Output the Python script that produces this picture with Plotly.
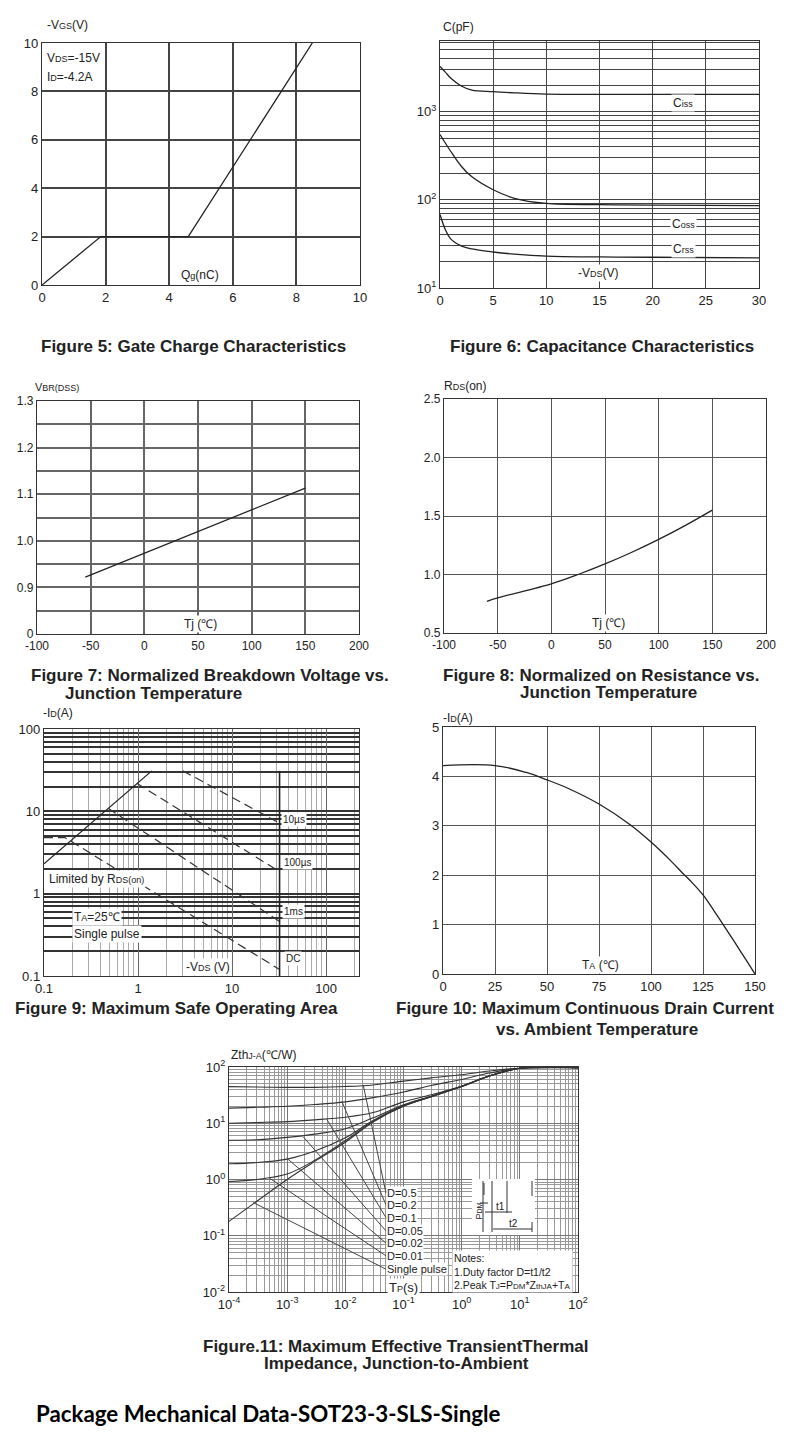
import math
import plotly.graph_objects as go

W, H = 790, 1451
OFF = 8  # the page body margin shifts the figure by this many pixels
FONT = "Liberation Sans, Arial, sans-serif"
INK = "#222"

# ---------------- data ----------------
# Figure 5: gate charge
QG_NC = [0, 1.85, 4.6, 8.5]
VGS_V = [0, 2, 2, 10]

# Figure 6: capacitance
VDS_CAP = [0, 0.5, 1, 2, 3, 5, 7, 10, 15, 20, 30]
CISS = [3240, 2800, 2400, 1950, 1750, 1680, 1630, 1580, 1570, 1570, 1570]
COSS = [550, 440, 355, 240, 182, 130, 104, 91, 88, 87, 86]
CRSS = [68, 46, 36, 30, 27.7, 25.6, 24.2, 23, 22.5, 22.3, 22]

# Figure 7: normalized breakdown voltage
TJ_BV = [-55, 150]
VBR_NORM = [0.922, 1.113]

# Figure 8: normalized on resistance
TJ_RDS = [-60, -50, 0, 25, 50, 75, 100, 125, 150]
RDS_NORM = [0.77, 0.80, 0.92, 1.00, 1.09, 1.19, 1.30, 1.42, 1.55]

# Figure 9: safe operating area
V_RDS_LIM = [0.1, 1.4]
I_RDS_LIM = [2.3, 31]
V_10US = [3.0, 32]
I_10US = [31, 7.2]
V_100US = [0.97, 32]
I_100US = [21.9, 1.85]
V_1MS = [0.48, 32]
I_1MS = [10.9, 0.46]
V_DC = [0.1, 0.167, 32]
I_DC = [4.8, 4.8, 0.12]
V_VMAX = [32, 32]
I_VMAX = [0.1, 31]

# Figure 10: drain current derating
TA_C = [0, 25, 40, 50, 60, 75, 90, 100, 110, 115, 120, 125, 130, 135, 140, 145, 150]
ID_A = [4.22, 4.22, 4.08, 3.93, 3.76, 3.44, 3.02, 2.67, 2.27, 2.05, 1.84, 1.6, 1.3, 0.98,
        0.66, 0.33, 0]

# Figure 11: transient thermal impedance
TP_S = [1e-4, 3e-4, 1e-3, 3e-3, 1e-2, 3e-2, 1e-1, 3e-1, 1, 3, 10, 100]
Z_D05 = [44.7, 44, 43.5, 43.5, 45, 48, 56, 64, 73, 85, 95, 97]
Z_D02 = [18.6, 19.2, 20, 21.5, 24, 28.5, 36, 47, 60, 78, 95, 97]
Z_D01 = [10, 10.3, 10.7, 11.5, 12.8, 15.5, 24, 32, 46, 69.5, 95, 97]
Z_D005 = [5.0, 5.1, 5.6, 6.4, 8.0, 12.5, 21.3, 30.3, 45.3, 69, 95, 97]
Z_D002 = [1.9, 2.0, 2.3, 3.2, 5.5, 11.2, 20.6, 29.9, 45, 69, 95, 97]
Z_D001 = [0.92, 1.0, 1.25, 2.2, 4.9, 10.8, 20.3, 29.7, 45, 69, 95, 97]
Z_SINGLE = [0.18, 0.41, 1.0, 2.1, 4.6, 10.5, 20, 29.5, 45, 69, 95, 97]
D_LABELS = ["D=0.5", "D=0.2", "D=0.1", "D=0.05", "D=0.02", "D=0.01", "Single pulse"]
LEAD_T0 = [0.0204, 0.0087, 0.0048, 0.0019, 0.00098, 0.0005, 0.00026]
LEAD_Z0 = [47, 24.5, 11.8, 5.7, 2.4, 1.05, 0.39]
LABEL_T = 0.05
LABEL_Z = [0.57, 0.354, 0.21, 0.122, 0.074, 0.044, 0.0255]


def sm(s, size=9):
    return f"<span style='font-size:{size}px'>{s}</span>"


def px(x):
    return (x - OFF) / W


def py(y):
    return 1 - (y - OFF) / H


def dom(x0, x1, y0, y1):
    # pixel box -> paper domains
    return [px(x0), px(x1)], [py(y1), py(y0)]


def axis(domain, anchor, grid="#555", gw=1.3, size=13, **kw):
    d = dict(domain=domain, anchor=anchor, showline=True, mirror=True,
             linecolor="#333", linewidth=1.4, ticks="", showgrid=True,
             gridcolor=grid, gridwidth=gw, zeroline=False, fixedrange=True,
             automargin=False,
             tickfont=dict(family=FONT, size=size, color=INK))
    d.update(kw)
    return d


def sup(vals):
    return [f"10<sup>{v}</sup>" for v in vals]


fig = go.Figure()
line = dict(color=INK, width=1.3)


def add(x, y, n, **kw):
    s = "" if n == 1 else str(n)
    fig.add_trace(go.Scatter(x=x, y=y, mode="lines", line=kw.pop("line", line),
                             xaxis="x" + s, yaxis="y" + s, showlegend=False,
                             hoverinfo="skip", **kw))


# Figure 5
add(QG_NC, VGS_V, 1)
# Figure 6
for c in (CISS, COSS, CRSS):
    add(VDS_CAP, c, 2, line_shape="spline")
# Figure 7
add(TJ_BV, VBR_NORM, 3)
# Figure 8
add(TJ_RDS, RDS_NORM, 4, line_shape="spline")
# Figure 9
add(V_RDS_LIM, I_RDS_LIM, 5)
dash = dict(color="#333", width=1.2, dash="9px,5px")
for vx, iy in ((V_10US, I_10US), (V_100US, I_100US), (V_1MS, I_1MS), (V_DC, I_DC)):
    add(vx, iy, 5, line=dash)
add(V_VMAX, I_VMAX, 5, line=dict(color="#222", width=1.6))
# Figure 10
add(TA_C, ID_A, 6, line_shape="spline")
# Figure 11
for z in (Z_D05, Z_D02, Z_D01, Z_D005, Z_D002, Z_D001, Z_SINGLE):
    add(TP_S, z, 7, line_shape="spline", line=dict(color="#333", width=1.1))
for t0, z0, z1 in zip(LEAD_T0, LEAD_Z0, LABEL_Z):
    add([t0, LABEL_T], [z0, z1], 7, line=dict(color="#444", width=1))

x1d, y1d = dom(42, 360, 43, 285)
x2d, y2d = dom(440, 759, 41, 288)
x3d, y3d = dom(37, 359, 401, 634)
x4d, y4d = dom(444, 766, 399, 633)
x5d, y5d = dom(44, 359, 729, 976)
x6d, y6d = dom(443, 755, 727, 974)
x7d, y7d = dom(229, 578, 1067, 1292)

fig.update_layout(
    width=W, height=H, autosize=False,
    margin=dict(l=0, r=0, t=0, b=0, pad=0),
    paper_bgcolor="white", plot_bgcolor="white",
    font=dict(family=FONT, color=INK),
    xaxis=axis(x1d, "y", grid="#444", gw=1.5, range=[0, 10], tickvals=[0, 2, 4, 6, 8, 10]),
    yaxis=axis(y1d, "x", grid="#444", gw=1.5, range=[0, 10], tickvals=[0, 2, 4, 6, 8, 10]),
    xaxis2=axis(x2d, "y2", grid="#444", gw=1.4, range=[0, 30], tickvals=[0, 5, 10, 15, 20, 25, 30]),
    yaxis2=axis(y2d, "x2", grid="#444", gw=1.4, type="log", range=[1, 3.8],
                tickvals=[10, 100, 1000], ticktext=sup([1, 2, 3]),
                minor=dict(dtick="D1", showgrid=True, gridcolor="#444", gridwidth=1.2)),
    xaxis3=axis(x3d, "y3", grid="#666", gw=1.5, size=12, range=[-100, 200],
                tickvals=[-100, -50, 0, 50, 100, 150, 200],
                ticktext=["-100", "-50", "0", "50", "100", "150", "200"]),
    yaxis3=axis(y3d, "x3", grid="#666", gw=1.5, size=12, range=[0.8, 1.3],
                tickvals=[0.8, 0.9, 1.0, 1.1, 1.2, 1.3],
                ticktext=["0", "0.9", "1.0", "1.1", "1.2", "1.3"],
                minor=dict(dtick=0.05, showgrid=True, gridcolor="#666", gridwidth=1.5)),
    xaxis4=axis(x4d, "y4", grid="#555", gw=1.4, size=12, range=[-100, 200],
                tickvals=[-100, -50, 0, 50, 100, 150, 200],
                ticktext=["-100", "-50", "0", "50", "100", "150", "200"]),
    yaxis4=axis(y4d, "x4", grid="#555", gw=1.4, size=12, range=[0.5, 2.5],
                tickvals=[0.5, 1.0, 1.5, 2.0, 2.5],
                ticktext=["0.5", "1.0", "1.5", "2.0", "2.5"]),
    xaxis5=axis(x5d, "y5", grid="#666", gw=1.2, type="log", range=[-1, 2.35],
                tickvals=[0.1, 1, 10, 100], ticktext=["0.1", "1", "10", "100"],
                minor=dict(dtick="D1", showgrid=True, gridcolor="#aaa", gridwidth=1)),
    yaxis5=axis(y5d, "x5", grid="#333", gw=1.6, type="log", range=[-1, 2],
                tickvals=[0.1, 1, 10, 100], ticktext=["0.1", "1", "10", "100"],
                minor=dict(dtick="D1", showgrid=True, gridcolor="#333", gridwidth=1.6)),
    xaxis6=axis(x6d, "y6", grid="#555", gw=1.4, range=[0, 150],
                tickvals=[0, 25, 50, 75, 100, 125, 150]),
    yaxis6=axis(y6d, "x6", grid="#555", gw=1.4, range=[0, 5], tickvals=[0, 1, 2, 3, 4, 5]),
    xaxis7=axis(x7d, "y7", grid="#777", gw=1, type="log", range=[-4, 2],
                tickvals=[1e-4, 1e-3, 1e-2, 1e-1, 1, 10, 100],
                ticktext=sup([-4, -3, -2, -1, 0, 1, 2]),
                minor=dict(dtick="D1", showgrid=True, gridcolor="#999", gridwidth=0.8)),
    yaxis7=axis(y7d, "x7", grid="#777", gw=1, type="log", range=[-2, 2],
                tickvals=[0.01, 0.1, 1, 10, 100], ticktext=sup([-2, -1, 0, 1, 2]),
                minor=dict(dtick="D1", showgrid=True, gridcolor="#999", gridwidth=0.8)),
)


def note(text, x, y, size=12, xanchor="center", bg=None, bold=False, family=FONT, **kw):
    if bold:
        text = f"<b>{text}</b>"
    fig.add_annotation(text=text, x=px(x), y=py(y), xref="paper", yref="paper",
                       xanchor=xanchor, yanchor="middle", showarrow=False,
                       font=dict(family=family, size=size, color=kw.pop("color", INK)),
                       bgcolor=bg, borderpad=kw.pop("borderpad", 1), **kw)


WB = "white"
# axis names and in-plot labels
note("-V" + sm("GS") + "(V)", 67, 25)
note("V" + sm("DS") + "=-15V", 45, 58, xanchor="left")
note("I" + sm("D") + "=-4.2A", 45, 77, xanchor="left")
note("Q" + sm("g") + "(nC)", 200, 275)

note("C(pF)", 458, 27)
note("C" + sm("iss"), 683, 103, bg=WB)
note("C" + sm("oss"), 683, 224, bg=WB)
note("C" + sm("rss"), 683, 249, bg=WB)
note("-V" + sm("DS") + "(V)", 598, 273, bg=WB)

note("V" + sm("BR(DSS)"), 57, 387, size=11)
note("Tj (℃)", 200, 624, bg=WB)
note("R" + sm("DS") + "(on)", 465, 386)
note("Tj (℃)", 608, 623, bg=WB)

note("-I" + sm("D") + "(A)", 58, 713)
note("10µs", 294, 819, size=10, bg=WB)
note("100µs", 297, 862, size=10, bg=WB)
note("1ms", 293, 912, size=10, bg=WB)
note("DC", 293, 958, size=10, bg=WB)
note("Limited by R" + sm("DS(on)"), 47, 879, xanchor="left", bg=WB)
note("T" + sm("A") + "=25℃", 72, 917, xanchor="left", bg=WB)
note("Single pulse", 72, 934, xanchor="left", bg=WB)
note("-V" + sm("DS") + " (V)", 184, 967, xanchor="left", bg=WB)

note("-I" + sm("D") + "(A)", 458, 718)
note("T" + sm("A") + " (℃)", 600, 965, bg=WB)

note("Zth" + sm("J-A") + "(℃/W)", 229, 1055, xanchor="left")
for lab, z in zip(D_LABELS, LABEL_Z):
    fig.add_annotation(text=lab, x=math.log10(LABEL_T), y=math.log10(z), xref="x7", yref="y7",
                       xanchor="left", yanchor="middle", showarrow=False, bgcolor=WB,
                       borderpad=0, font=dict(family=FONT, size=11, color=INK))
note("T" + sm("P") + "(s)", 387, 1287, size=13, xanchor="left", bg=WB)
fig.add_annotation(
    text="Notes:<br>1.Duty factor D=t1/t2<br>2.Peak T" + sm("J", 8) + "=P" + sm("DM", 8)
         + "*Z" + sm("thJA", 8) + "+T" + sm("A", 8),
    x=px(452), y=py(1250), xref="paper", yref="paper", xanchor="left", yanchor="top",
    align="left", showarrow=False, bgcolor=WB, borderpad=1,
    font=dict(family=FONT, size=10.5, color=INK))

# pulse sketch inset (Figure 11)
shapes = [dict(type="rect", x0=472, x1=535, y0=1179, y1=1235, fillcolor=WB, line=dict(width=0))]
segs = [(483, 1181, 483, 1232), (480, 1203, 488, 1203), (484, 1183, 484, 1195),
        (492, 1181, 492, 1232), (507, 1181, 507, 1213), (532, 1181, 532, 1196),
        (532, 1222, 532, 1232), (485, 1212, 512, 1212), (493, 1229, 532, 1229)]
for a, b, c, d in segs:
    shapes.append(dict(type="line", x0=a, y0=b, x1=c, y1=d, line=dict(color="#333", width=1)))
for s in shapes:
    s.update(xref="paper", yref="paper", x0=px(s["x0"]), x1=px(s["x1"]),
             y0=py(s["y0"]), y1=py(s["y1"]))
fig.update_layout(shapes=shapes)
note("t1", 500, 1206, size=10)
note("t2", 513, 1223, size=10)
fig.add_annotation(text="P" + sm("DM", 7), x=px(478), y=py(1221), xref="paper", yref="paper",
                   textangle=-90, showarrow=False, font=dict(family=FONT, size=9, color=INK))

# captions
CAP = 17
note("Figure 5: Gate Charge Characteristics", 193, 346, size=CAP, bold=True)
note("Figure 6: Capacitance Characteristics", 602, 346, size=CAP, bold=True)
note("Figure 7: Normalized Breakdown Voltage vs.", 210, 675, size=CAP, bold=True)
note("Junction Temperature", 63, 694, size=CAP, bold=True, xanchor="left")
note("Figure 8: Normalized on Resistance vs.", 601, 675, size=CAP, bold=True)
note("Junction Temperature", 608, 693, size=CAP, bold=True)
note("Figure 9: Maximum Safe Operating Area", 176, 1008, size=CAP, bold=True)
note("Figure 10: Maximum Continuous Drain Current", 585, 1008, size=CAP, bold=True)
note("vs. Ambient Temperature", 597, 1029, size=CAP, bold=True)
note("Figure.11: Maximum Effective TransientThermal", 395, 1346, size=CAP, bold=True)
note("Impedance, Junction-to-Ambient", 396, 1363, size=CAP, bold=True)
note("Package Mechanical Data-SOT23-3-SLS-Single", 34, 1413, size=22.3, bold=True,
     xanchor="left", family="Lato, sans-serif", color="#000")

fig.write_html("out.html")
